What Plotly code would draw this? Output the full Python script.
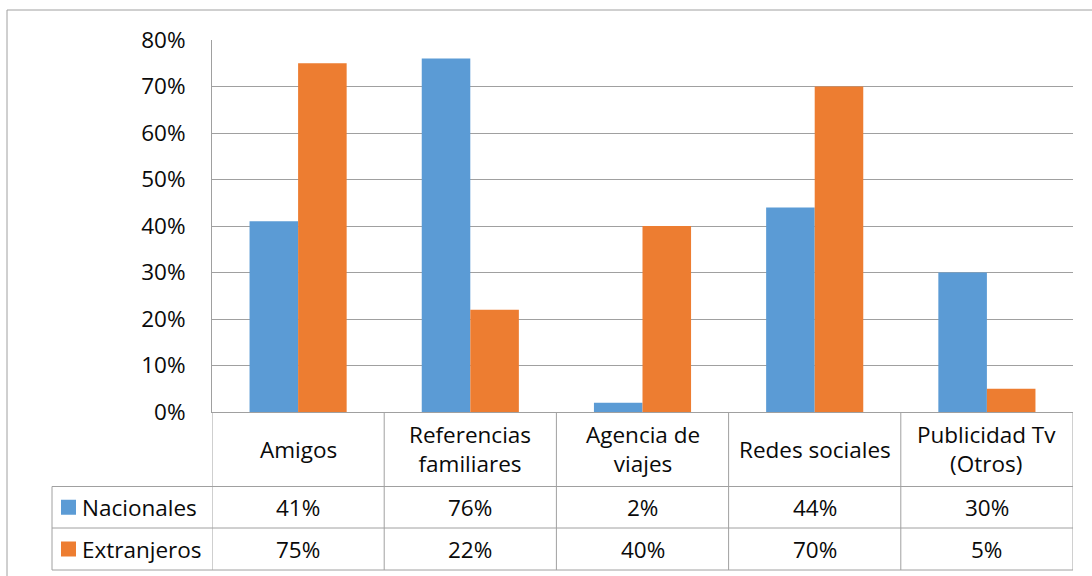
import plotly.graph_objects as go

categories = ["Amigos", "Referencias familiares", "Agencia de viajes", "Redes sociales", "Publicidad Tv (Otros)"]
category_labels = ["Amigos", "Referencias<br>familiares", "Agencia de<br>viajes", "Redes sociales", "Publicidad Tv<br>(Otros)"]
series_names = ["Nacionales", "Extranjeros"]
nacionales = [0.41, 0.76, 0.02, 0.44, 0.30]
extranjeros = [0.75, 0.22, 0.40, 0.70, 0.05]
y_ticks = [0, 0.1, 0.2, 0.3, 0.4, 0.5, 0.6, 0.7, 0.8]

W, H = 1092, 576
BLUE = "#5B9BD5"
ORANGE = "#ED7D31"
GRID = "#A0A0A0"
FONT = "Open Sans"
FS = 22.5
TXT = "#0A0A0A"

def px(x):
    return x / W

def py(y):
    return 1 - y / H

x_idx = list(range(len(categories)))

fig = go.Figure()
fig.add_bar(x=x_idx, y=nacionales, name=series_names[0], marker=dict(color=BLUE, line=dict(width=0)))
fig.add_bar(x=x_idx, y=extranjeros, name=series_names[1], marker=dict(color=ORANGE, line=dict(width=0)))

plot_top, plot_bot = 40, 412
plot_left, plot_right = 212, 1073
row1, row2, row3 = 486.5, 528, 570
legend_left = 52

shapes = []
shapes.append(dict(type="line", xref="paper", yref="paper", x0=px(7), x1=1.0, y0=py(10), y1=py(10), line=dict(color=GRID, width=1)))
shapes.append(dict(type="line", xref="paper", yref="paper", x0=px(7), x1=px(7), y0=py(10), y1=0, line=dict(color=GRID, width=1)))
for yy in [row1, row2, row3]:
    shapes.append(dict(type="line", xref="paper", yref="paper", x0=px(legend_left), x1=px(plot_right), y0=py(yy), y1=py(yy), line=dict(color=GRID, width=1)))
for i in range(len(categories) + 1):
    shapes.append(dict(type="line", xref="x", yref="paper", x0=i - 0.5, x1=i - 0.5, y0=py(plot_bot), y1=py(row3), line=dict(color=GRID, width=1)))
shapes.append(dict(type="line", xref="paper", yref="paper", x0=px(legend_left), x1=px(legend_left), y0=py(row1), y1=py(row3), line=dict(color=GRID, width=1)))

annotations = []
for i, lab in enumerate(category_labels):
    annotations.append(dict(x=i, y=py((plot_bot + row1) / 2), xref="x", yref="paper", text=lab, showarrow=False,
                            xanchor="center", yanchor="middle", font=dict(family=FONT, size=FS, color=TXT)))
rows = [(nacionales, (row1 + row2) / 2, BLUE, series_names[0]), (extranjeros, (row2 + row3) / 2, ORANGE, series_names[1])]
for vals, yc, col, name in rows:
    for i, v in enumerate(vals):
        annotations.append(dict(x=i, y=py(yc), xref="x", yref="paper", text=f"{round(v*100)}%", showarrow=False,
                                xanchor="center", yanchor="middle", font=dict(family=FONT, size=FS, color=TXT)))
    shapes.append(dict(type="rect", xref="paper", yref="paper", x0=px(61), x1=px(76), y0=py(yc - 7.5), y1=py(yc + 7.5),
                       fillcolor=col, line=dict(width=0)))
    annotations.append(dict(x=px(80), y=py(yc), xref="paper", yref="paper", text=name, showarrow=False,
                            xanchor="left", yanchor="middle", font=dict(family=FONT, size=FS, color=TXT)))

fig.update_layout(
    width=W, height=H,
    margin=dict(l=0, r=0, t=0, b=0, pad=0, autoexpand=False),
    paper_bgcolor="white", plot_bgcolor="white",
    showlegend=False,
    barmode="group", bargap=0.436, bargroupgap=0,
    font=dict(family=FONT, size=FS, color=TXT),
    xaxis=dict(domain=[px(plot_left), px(plot_right)], range=[-0.5, len(categories) - 0.5],
               showticklabels=False, showgrid=False, zeroline=False, automargin=False,
               showline=True, linecolor=GRID, linewidth=1, ticks=""),
    yaxis=dict(domain=[py(plot_bot), py(plot_top)], range=[0, 0.8], tickvals=y_ticks, tickformat=".0%",
               showgrid=True, gridcolor=GRID, gridwidth=1, zeroline=False, automargin=False,
               showline=True, linecolor=GRID, linewidth=1, ticks="", ticklabelstandoff=21,
               tickfont=dict(family=FONT, size=FS, color=TXT)),
    shapes=shapes, annotations=annotations,
)

fig.write_html("out.html", config={"displayModeBar": False, "staticPlot": True},
               post_script="document.body.style.margin='0';document.body.style.padding='0';document.documentElement.style.overflow='hidden';")
